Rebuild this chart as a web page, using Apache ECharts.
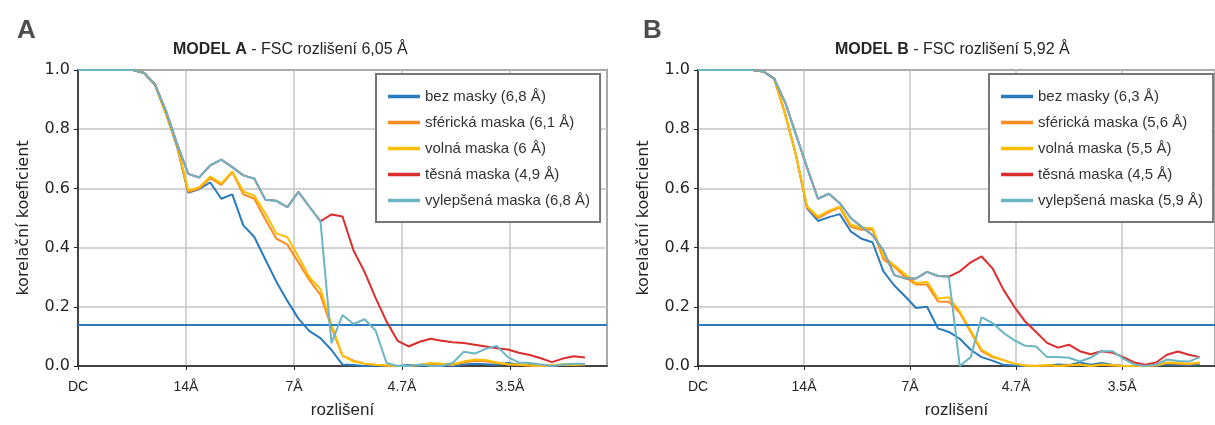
<!DOCTYPE html>
<html>
<head>
<meta charset="utf-8">
<script src="https://cdn.jsdelivr.net/npm/echarts@6/dist/echarts.min.js"></script>
<style>
  html, body { margin: 0; padding: 0; background: #fff; }
  #chart { width: 1215px; height: 425px; }
</style>
</head>
<body>
<div id="chart"></div>
<script>
// tick labels on the resolution axis (DC, 1/14, 2/14, 3/14, 4/14 per Å)
const resTicks = ['DC', '14Å', '7Å', '4.7Å', '3.5Å'];
// shells per tick step
const stepA = 9.8;
const stepB = 9.72;
const threshold = 0.143;

// MODEL A - FSC per shell
const namesA = ['bez masky (6,8 Å)', 'sférická maska (6,1 Å)', 'volná maska (6 Å)', 'těsná maska (4,9 Å)', 'vylepšená maska (6,8 Å)'];
const bezA = [1,1,1,1,1,1,0.99,0.95,0.85,0.74,0.585,0.598,0.62,0.565,0.58,0.475,0.436,0.36,0.285,0.22,0.16,0.118,0.094,0.054,0.005,0.003,0,0.002,0,0,0.003,0,0.006,0.004,0,0.005,0.008,0.006,0.004,0.01,0.005,0.003,0,0.002,0.004,0.005,0.006];
const sferA = [1,1,1,1,1,1,0.99,0.95,0.85,0.745,0.588,0.6,0.635,0.612,0.655,0.58,0.565,0.495,0.43,0.41,0.35,0.29,0.24,0.13,0.035,0.018,0.008,0.004,0.002,0,0,0.003,0.008,0.006,0.004,0.012,0.018,0.016,0.01,0.005,0.004,0.002,0,0.002,0.004,0.004,0.005];
const volnaA = [1,1,1,1,1,1,0.99,0.95,0.85,0.745,0.593,0.604,0.64,0.617,0.657,0.59,0.575,0.515,0.448,0.435,0.369,0.3,0.26,0.14,0.035,0.015,0.008,0.004,0.002,0,0,0.004,0.01,0.008,0.005,0.015,0.022,0.02,0.012,0.006,0.004,0.002,0,0.003,0.005,0.004,0.006];
const tesnaA = [1,1,1,1,1,1,0.99,0.95,0.86,0.75,0.649,0.637,0.678,0.697,0.672,0.644,0.633,0.562,0.558,0.537,0.588,0.538,0.489,0.512,0.505,0.39,0.318,0.23,0.15,0.085,0.066,0.082,0.092,0.085,0.08,0.078,0.072,0.066,0.06,0.056,0.045,0.037,0.026,0.013,0.025,0.033,0.029];
const vylepA = [1,1,1,1,1,1,0.99,0.95,0.86,0.75,0.649,0.637,0.678,0.697,0.672,0.644,0.633,0.562,0.558,0.537,0.588,0.538,0.489,0.077,0.172,0.142,0.158,0.12,0.01,0,0,0.005,0,0,0.01,0.048,0.042,0.058,0.068,0.03,0.012,0.01,0.005,0,0.005,0.008,0.008];

// MODEL B - FSC per shell
const namesB = ['bez masky (6,3 Å)', 'sférická maska (5,6 Å)', 'volná maska (5,5 Å)', 'těsná maska (4,5 Å)', 'vylepšená maska (5,9 Å)'];
const bezB = [1,1,1,1,1,1,0.995,0.97,0.85,0.71,0.533,0.49,0.503,0.513,0.455,0.43,0.418,0.32,0.272,0.235,0.196,0.2,0.127,0.115,0.092,0.055,0.03,0.018,0.004,0.002,0,0,0.002,0.005,0.003,0.012,0.004,0.01,0.004,0,0,0.002,0,0.006,0.004,0.003,0.005];
const sferB = [1,1,1,1,1,1,0.995,0.97,0.85,0.71,0.535,0.5,0.52,0.535,0.47,0.46,0.462,0.36,0.335,0.3,0.275,0.275,0.218,0.217,0.18,0.115,0.05,0.03,0.02,0.008,0.002,0,0.002,0,0.003,0.004,0,0.004,0.002,0,0,0,0.002,0.01,0.008,0.006,0.01];
const volnaB = [1,1,1,1,1,1,0.995,0.97,0.85,0.71,0.54,0.505,0.525,0.538,0.478,0.466,0.466,0.37,0.34,0.31,0.28,0.285,0.228,0.232,0.185,0.12,0.055,0.033,0.02,0.008,0.002,0,0.003,0,0.002,0.005,0,0.005,0.003,0,0,0,0.003,0.012,0.01,0.008,0.012];
const tesnaB = [1,1,1,1,1,1,0.995,0.97,0.89,0.78,0.67,0.565,0.582,0.55,0.5,0.47,0.442,0.39,0.307,0.296,0.296,0.318,0.304,0.302,0.32,0.35,0.37,0.33,0.258,0.2,0.15,0.115,0.078,0.062,0.072,0.05,0.04,0.05,0.045,0.03,0.012,0.004,0.012,0.038,0.049,0.038,0.03];
const vylepB = [1,1,1,1,1,1,0.995,0.97,0.89,0.78,0.67,0.565,0.582,0.55,0.5,0.47,0.442,0.39,0.307,0.296,0.296,0.318,0.304,0.302,0,0.03,0.165,0.145,0.112,0.087,0.068,0.066,0.03,0.03,0.028,0.015,0.028,0.05,0.05,0.025,0.005,0,0.005,0.022,0.017,0.015,0.03];

const colors = ['#2a7bbd', '#ff8a1e', '#ffbf00', '#dc2d2d', '#6cb5c4'];
const textDark = '#262626';

const chart = echarts.init(document.getElementById('chart'), null, { renderer: 'canvas' });

function xAxisFor(gridIndex, step, max) {
    return {
        type: 'value', gridIndex: gridIndex, min: 0, max: max, interval: step,
        name: 'rozlišení', nameLocation: 'middle', nameGap: 36,
        nameTextStyle: { fontSize: 17, color: textDark, fontFamily: 'Liberation Sans' },
        axisLine: { lineStyle: { color: '#222', width: 1.5 } },
        axisTick: { show: true, length: 4, lineStyle: { color: '#222' } },
        axisLabel: {
            margin: 14, fontSize: 14, color: textDark, showMaxLabel: false,
            fontFamily: 'Liberation Sans Narrow, Liberation Sans',
            formatter: function (v) {
                const k = Math.round(v / step);
                return Math.abs(v - k * step) < 0.01 ? (resTicks[k] || '') : '';
            }
        },
        splitLine: { show: true, lineStyle: { color: '#c4c4c4', width: 1.5 } }
    };
}

function yAxisFor(gridIndex) {
    return {
        type: 'value', gridIndex: gridIndex, min: 0, max: 1, interval: 0.2,
        name: 'korelační koeficient', nameLocation: 'middle', nameGap: 46,
        nameTextStyle: { fontSize: 16, color: textDark, fontFamily: 'DejaVu Sans' },
        axisLine: { show: true, lineStyle: { color: '#222', width: 1.5 } },
        axisTick: { show: true, length: 4, lineStyle: { color: '#222' } },
        axisLabel: {
            margin: 8, fontSize: 16, color: textDark, fontFamily: 'DejaVu Sans',
            formatter: function (v) { return v.toFixed(1); }
        },
        splitLine: { show: true, lineStyle: { color: '#c4c4c4', width: 1.5 } }
    };
}

function seriesFor(gridIndex, names, lists) {
    return lists.map(function (vals, k) {
        const s = {
            name: names[k], type: 'line',
            xAxisIndex: gridIndex, yAxisIndex: gridIndex,
            data: vals.map(function (v, i) { return [i, v]; }),
            showSymbol: false, symbol: 'none',
            lineStyle: { color: colors[k], width: 2 },
            itemStyle: { color: colors[k] },
            z: 2 + k
        };
        if (k === 0) {
            // FSC 0.143 criterion
            s.markLine = {
                silent: true, symbol: 'none', label: { show: false },
                lineStyle: { color: colors[0], width: 2, type: 'solid' },
                data: [{ yAxis: threshold }]
            };
        }
        return s;
    });
}

function legendFor(names, left) {
    return {
        data: names, orient: 'vertical', left: left, top: 74,
        icon: 'rect', itemWidth: 32, itemHeight: 3.5, itemGap: 11,
        padding: [15, 10, 14, 12],
        backgroundColor: '#fff', borderColor: '#777', borderWidth: 2,
        textStyle: { fontSize: 15, color: '#333', fontFamily: 'Liberation Sans' }
    };
}

const titleRich = {
    fontSize: 16, fontWeight: 'normal', color: textDark, fontFamily: 'Liberation Sans',
    rich: { b: { fontSize: 16, fontWeight: 'bold', color: textDark, fontFamily: 'Liberation Sans' } }
};
const panelLetter = { fontSize: 26, fontWeight: 'bold', color: '#4d4d4d', fontFamily: 'Liberation Sans Narrow, Liberation Sans' };

const option = {
    animation: false,
    backgroundColor: '#fff',
    title: [
        { text: 'A', left: 12, top: 13, textStyle: panelLetter },
        { text: 'B', left: 638, top: 13, textStyle: panelLetter },
        { text: '{b|MODEL A} - FSC rozlišení 6,05 Å', left: 168, top: 37, textStyle: titleRich },
        { text: '{b|MODEL B} - FSC rozlišení 5,92 Å', left: 830, top: 37, textStyle: titleRich }
    ],
    legend: [legendFor(namesA, 376), legendFor(namesB, 989)],
    grid: [
        { left: 78, top: 70, width: 529, height: 296, show: true, borderColor: '#222', borderWidth: 1.5, backgroundColor: 'transparent' },
        { left: 698, top: 70, width: 519, height: 296, show: true, borderColor: '#222', borderWidth: 1.5, backgroundColor: 'transparent' }
    ],
    xAxis: [xAxisFor(0, stepA, 48), xAxisFor(1, stepB, 47.4)],
    yAxis: [yAxisFor(0), yAxisFor(1)],
    series: seriesFor(0, namesA, [bezA, sferA, volnaA, tesnaA, vylepA])
        .concat(seriesFor(1, namesB, [bezB, sferB, volnaB, tesnaB, vylepB]))
};

chart.setOption(option);
</script>
</body>
</html>
